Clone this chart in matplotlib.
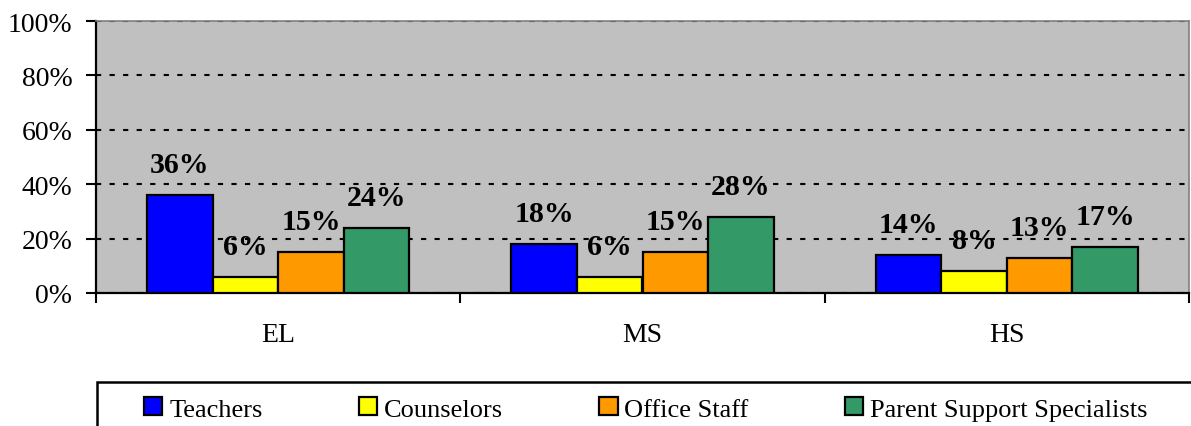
import matplotlib
matplotlib.use("Agg")
import matplotlib.pyplot as plt
import numpy as np
from matplotlib.patches import Rectangle

categories = ["EL", "MS", "HS"]
series_names = ["Teachers", "Counselors", "Office Staff", "Parent Support Specialists"]
teachers = [36, 18, 14]
counselors = [6, 6, 8]
office_staff = [15, 15, 13]
parent_support = [24, 28, 17]
series_values = [teachers, counselors, office_staff, parent_support]
colors = ["#0000FF", "#FFFF00", "#FF9900", "#339966"]
yticks = [0, 20, 40, 60, 80, 100]

plt.rcParams['font.family'] = ['Liberation Serif', 'DejaVu Serif']

W, H = 1191, 427
fig = plt.figure(figsize=(W/100, H/100), dpi=100)
ax = fig.add_axes([96/W, 1-294/H, (1189-96)/W, (294-22)/H])
ax.set_facecolor("#C0C0C0")

x = np.arange(len(categories))
bw = 0.18
for i, (name, vals, c) in enumerate(zip(series_names, series_values, colors)):
    pos = x + (i - 1.5) * bw
    ax.bar(pos, vals, width=bw, color=c, edgecolor="black", linewidth=1.6,
           label=name, zorder=3)
    for px_, v in zip(pos, vals):
        ax.annotate(f"{v}%", (px_, v), xytext=(0, 22), textcoords="offset points",
                    ha="center", va="center", fontsize=21.5, fontweight="bold", zorder=4)

ax.set_xlim(-0.5, 2.5)
ax.set_ylim(0, 100)
ax.set_yticks(yticks)
ax.set_yticklabels([f"{t}%" for t in yticks], fontsize=20)
ax.yaxis.grid(True, linestyle=(0, (2.5, 4)), color="black", linewidth=1.5, zorder=1)
ax.set_axisbelow(True)

ax.set_xticks([-0.5, 0.5, 1.5, 2.5])
ax.set_xticklabels([])
ax.tick_params(axis="x", direction="out", length=7, width=1.5, color="black")
ax.tick_params(axis="y", direction="out", length=7, width=1.5, color="black", pad=10)
for xi, cat in zip(x, categories):
    ax.text(xi, -15.2, cat, ha="center", va="center", fontsize=20,
            transform=ax.transData, clip_on=False)

for s in ["left", "bottom"]:
    ax.spines[s].set_color("black")
    ax.spines[s].set_linewidth(1.6)
for s in ["top", "right"]:
    ax.spines[s].set_color("#808080")
    ax.spines[s].set_linewidth(1.2)

# legend frame (clipped by figure edges)
rect = Rectangle((97/W, -0.2), 1.0, 1-383/H + 0.2, transform=fig.transFigure,
                 facecolor="white", edgecolor="black", linewidth=1.8, clip_on=False)
fig.patches.append(rect)

handles, labels = ax.get_legend_handles_labels()
leg = fig.legend(handles, labels, loc="center left", bbox_to_anchor=(144/W, 1-410/H),
                 ncol=4, frameon=False, fontsize=19, handlelength=0.7, handleheight=0.65,
                 handletextpad=0.25, columnspacing=3.65, borderaxespad=0, borderpad=0)

fig.savefig("out.png", dpi=100)
